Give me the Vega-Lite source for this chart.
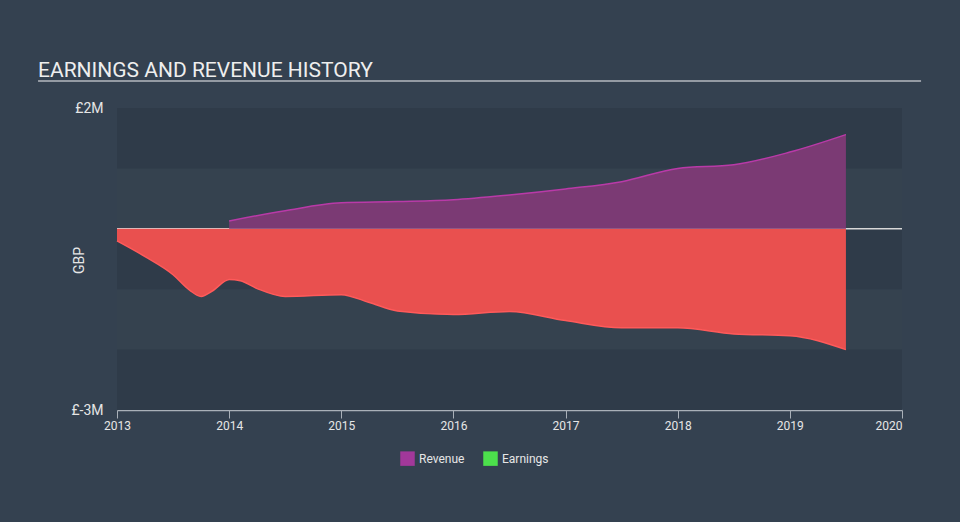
{
  "$schema": "https://vega.github.io/schema/vega-lite/v6.json",
  "width": 785,
  "height": 302,
  "autosize": {"type": "none"},
  "padding": {"left": 117, "top": 108, "right": 58, "bottom": 112},
  "background": "#344150",
  "view": {"stroke": null, "fill": "#35424f"},
  "title": {
    "text": "EARNINGS AND REVENUE HISTORY",
    "anchor": "start",
    "frame": "group",
    "dx": -79,
    "dy": 46,
    "offset": 28,
    "baseline": "alphabetic",
    "font": "Roboto",
    "fontSize": 21,
    "fontWeight": "normal",
    "color": "#eeeeee"
  },
  "config": {
    "font": "Roboto",
    "axis": {"labelFont": "Roboto", "titleFont": "Roboto"}
  },
  "datasets": {
    "series": [
      {"date": 2013.0, "series": "Earnings", "value": -0.2},
      {"date": 2013.25, "series": "Earnings", "value": -0.46},
      {"date": 2013.5, "series": "Earnings", "value": -0.76},
      {"date": 2013.65, "series": "Earnings", "value": -1.02},
      {"date": 2013.75, "series": "Earnings", "value": -1.12},
      {"date": 2013.85, "series": "Earnings", "value": -1.03},
      {"date": 2014.0, "series": "Earnings", "value": -0.84},
      {"date": 2014.1, "series": "Earnings", "value": -0.86},
      {"date": 2014.25, "series": "Earnings", "value": -0.99},
      {"date": 2014.5, "series": "Earnings", "value": -1.12},
      {"date": 2015.0, "series": "Earnings", "value": -1.09},
      {"date": 2015.25, "series": "Earnings", "value": -1.22},
      {"date": 2015.5, "series": "Earnings", "value": -1.36},
      {"date": 2016.0, "series": "Earnings", "value": -1.42},
      {"date": 2016.5, "series": "Earnings", "value": -1.37},
      {"date": 2017.0, "series": "Earnings", "value": -1.52},
      {"date": 2017.5, "series": "Earnings", "value": -1.64},
      {"date": 2018.0, "series": "Earnings", "value": -1.64},
      {"date": 2018.5, "series": "Earnings", "value": -1.74},
      {"date": 2019.0, "series": "Earnings", "value": -1.77},
      {"date": 2019.5, "series": "Earnings", "value": -2.0},
      {"date": 2014.0, "series": "Revenue", "value": 0.13},
      {"date": 2014.5, "series": "Revenue", "value": 0.3},
      {"date": 2015.0, "series": "Revenue", "value": 0.43},
      {"date": 2015.5, "series": "Revenue", "value": 0.45},
      {"date": 2016.0, "series": "Revenue", "value": 0.48},
      {"date": 2016.5, "series": "Revenue", "value": 0.56},
      {"date": 2017.0, "series": "Revenue", "value": 0.66},
      {"date": 2017.5, "series": "Revenue", "value": 0.78},
      {"date": 2018.0, "series": "Revenue", "value": 1.0},
      {"date": 2018.5, "series": "Revenue", "value": 1.06},
      {"date": 2019.0, "series": "Revenue", "value": 1.27},
      {"date": 2019.5, "series": "Revenue", "value": 1.56}
    ],
    "bands": [
      {"lo": 1, "hi": 2},
      {"lo": -1, "hi": 0},
      {"lo": -3, "hi": -2}
    ]
  },
  "layer": [
    {
      "data": {"name": "bands"},
      "mark": {"type": "rect", "color": "#2f3b49"},
      "encoding": {
        "x": {"datum": 2013, "type": "quantitative", "scale": {"domain": [2013, 2020], "nice": false, "zero": false}},
        "x2": {"datum": 2020},
        "y": {"field": "lo", "type": "quantitative", "scale": {"domain": [-3, 2], "nice": false}},
        "y2": {"field": "hi"}
      }
    },
    {
      "data": {"values": [{"a": 0}]},
      "mark": {"type": "rule", "color": "#d8d8d8", "strokeWidth": 1.5},
      "encoding": {
        "x": {"datum": 2013, "type": "quantitative"},
        "x2": {"datum": 2020},
        "y": {"datum": 0, "type": "quantitative"}
      }
    },
    {
      "data": {"values": [{"a": 0}]},
      "mark": {"type": "rule", "color": "#b4b9bf", "strokeWidth": 1.5, "clip": false},
      "encoding": {
        "x": {"datum": 2012.296, "type": "quantitative"},
        "x2": {"datum": 2020.17},
        "y": {"datum": 2.447, "type": "quantitative"}
      }
    },
    {
      "data": {"name": "series"},
      "mark": {"type": "point", "shape": "square", "filled": true, "opacity": 0},
      "encoding": {
        "x": {"field": "date", "type": "quantitative"},
        "y": {"field": "value", "type": "quantitative"},
        "color": {
          "field": "series", "type": "nominal",
          "scale": {"domain": ["Revenue", "Earnings"], "range": ["#a2389a", "#4ce04c"]},
          "legend": {
            "title": null,
            "orient": "none",
            "direction": "horizontal",
            "legendX": 283,
            "legendY": 343,
            "symbolType": "square",
            "symbolSize": 210,
            "symbolStrokeWidth": 0,
            "symbolOpacity": 1,
            "labelColor": "#e6e6e6",
            "labelFontSize": 12,
            "labelFont": "Roboto",
            "columnPadding": 18
          }
        }
      }
    },
    {
      "data": {"name": "series"},
      "mark": {"type": "area", "interpolate": "monotone", "opacity": 1},
      "encoding": {
        "x": {
          "field": "date", "type": "quantitative",
          "axis": {
            "title": null,
            "values": [2013, 2014, 2015, 2016, 2017, 2018, 2019, 2020],
            "format": "d",
            "grid": false,
            "domainColor": "#a9b0b8",
            "domainWidth": 1.5,
            "tickColor": "#a9b0b8",
            "tickSize": 8,
            "tickWidth": 1,
            "labelColor": "#e6e6e6",
            "labelFontSize": 12,
            "labelPadding": 2,
            "labelAlign": {"condition": {"test": "datum.value == 2020", "value": "right"}, "value": "center"}
          }
        },
        "y": {
          "field": "value", "type": "quantitative", "stack": null,
          "axis": {
            "title": "GBP",
            "titleColor": "#e6e6e6",
            "titleFontSize": 14,
            "titleFontWeight": "normal",
            "titlePadding": -16,
            "titleY": 152,
            "values": [2, -3],
            "labelExpr": "datum.value == 2 ? '£2M' : '£-3M'",
            "labelColor": "#e6e6e6",
            "labelFontSize": 14,
            "labelPadding": 14,
            "domain": false,
            "ticks": false,
            "grid": false
          }
        },
        "fill": {
          "field": "series", "type": "nominal",
          "scale": {"domain": ["Revenue", "Earnings"], "range": ["#7b3a74", "#e9504f"]},
          "legend": null
        }
      }
    },
    {
      "data": {"name": "series"},
      "mark": {"type": "line", "interpolate": "monotone", "strokeWidth": 1.5},
      "encoding": {
        "x": {"field": "date", "type": "quantitative"},
        "y": {"field": "value", "type": "quantitative"},
        "stroke": {
          "field": "series", "type": "nominal",
          "scale": {"domain": ["Revenue", "Earnings"], "range": ["#b93aa8", "#ff5a5a"]},
          "legend": null
        }
      }
    }
  ]
}
